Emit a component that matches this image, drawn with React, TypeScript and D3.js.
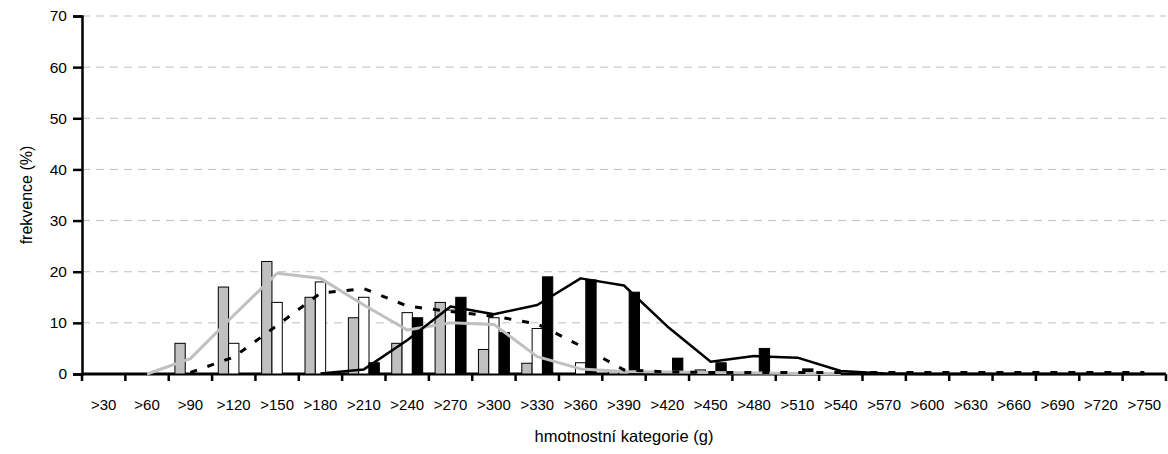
import React, { useEffect, useRef } from "react";
import * as d3 from "d3";

const categories = [">30", ">60", ">90", ">120", ">150", ">180", ">210", ">240", ">270", ">300", ">330", ">360", ">390", ">420", ">450", ">480", ">510", ">540", ">570", ">600", ">630", ">660", ">690", ">720", ">750"];

// bar series
const greyBars = [0, 0, 6, 17, 22, 15, 11, 6, 14, 4.8, 2.1, 0, 0.5, 0, 0.8, 0, 0, 0, 0, 0, 0, 0, 0, 0, 0];
const whiteBars = [0, 0, 0, 6, 14, 18, 15, 12, 12.5, 11, 8.9, 2.2, 0.5, 0, 0, 0, 0, 0, 0, 0, 0, 0, 0, 0, 0];
const blackBars = [0, 0, 0, 0, 0, 0, 2.2, 11, 15, 8.1, 19, 18.4, 16, 3.1, 2.2, 5, 1, 0, 0, 0, 0, 0, 0, 0, 0];

// line series (null = no point)
const greyLine = [null, 0, 3, 11.5, 19.7, 18.7, 13.5, 8.6, 10, 9.7, 3.4, 1, 0.5, 0.4, 0.3, 0.2, 0.1, 0.1, null, null, null, null, null, null, null];
const dashedLine = [null, null, 0.3, 3.3, 9.5, 15.8, 16.7, 13.3, 12.2, 11.3, 9.8, 5.5, 0.8, 0.4, 0.3, 0.3, 0.3, 0.3, 0.3, 0.3, 0.3, 0.3, 0.3, 0.3, 0.3];
const blackLine = [null, null, null, null, null, 0.1, 0.9, 6.6, 13.2, 11.7, 13.5, 18.7, 17.3, 9.3, 2.4, 3.5, 3.2, 0.6, 0.1, 0, 0, 0, 0, 0, 0];

const yTicks = [0, 10, 20, 30, 40, 50, 60, 70];

const W = 1168;
const H = 454;

const App = () => {
  const ref = useRef<SVGSVGElement>(null);

  useEffect(() => {
    drawChart();
  }, []);

  function drawChart() {
    const svg = d3.select(ref.current);
    svg.selectAll("*").remove();

    const left = 82;
    const right = 1166;
    const top = 16;
    const bottom = 374;
    const font = "'Liberation Sans', Arial, sans-serif";

    const x = d3.scaleBand().domain(categories).range([left, right]);
    const xs = d3
      .scaleBand()
      .domain(["grey", "white", "black"])
      .range([0, x.bandwidth()])
      .paddingOuter(0.6);
    const y = d3.scaleLinear().domain([0, 70]).range([bottom, top]);

    // gridlines
    svg
      .append("g")
      .selectAll("line")
      .data(yTicks.filter((t) => t > 0))
      .enter()
      .append("line")
      .attr("x1", left)
      .attr("x2", right)
      .attr("y1", (d) => y(d))
      .attr("y2", (d) => y(d))
      .attr("stroke", "#c0c0c0")
      .attr("stroke-width", 1)
      .attr("stroke-dasharray", "8,6");

    // Y axis
    const yAxis = svg
      .append("g")
      .attr("transform", `translate(${left},0)`)
      .call(d3.axisLeft(y).tickValues(yTicks).tickSize(9).tickPadding(6));
    yAxis.select(".domain").attr("stroke", "#000").attr("stroke-width", 2.5);
    yAxis.selectAll(".tick line").attr("stroke", "#000").attr("stroke-width", 2.5);
    yAxis
      .selectAll(".tick text")
      .attr("font-family", font)
      .attr("font-size", 15.5)
      .attr("fill", "#000");

    // X axis
    const boundaries = categories.map((c) => x(c) as number).concat([right]);
    const xg = svg.append("g");
    xg.append("line")
      .attr("x1", left)
      .attr("x2", right)
      .attr("y1", bottom)
      .attr("y2", bottom)
      .attr("stroke", "#000")
      .attr("stroke-width", 3);
    xg.selectAll(".tk")
      .data(boundaries)
      .enter()
      .append("line")
      .attr("x1", (d) => d)
      .attr("x2", (d) => d)
      .attr("y1", bottom)
      .attr("y2", bottom + 7)
      .attr("stroke", "#000")
      .attr("stroke-width", 2.5);
    xg.selectAll("text")
      .data(categories)
      .enter()
      .append("text")
      .attr("x", (d) => (x(d) as number) + x.bandwidth() / 2)
      .attr("y", 410)
      .attr("text-anchor", "middle")
      .attr("font-family", font)
      .attr("font-size", 15)
      .text((d) => d);

    // axis titles
    svg
      .append("text")
      .attr("x", (left + right) / 2)
      .attr("y", 442)
      .attr("text-anchor", "middle")
      .attr("font-family", font)
      .attr("font-size", 16.5)
      .text("hmotnostní kategorie (g)");
    svg
      .append("text")
      .attr("transform", `translate(32,${(top + bottom) / 2}) rotate(-90)`)
      .attr("text-anchor", "middle")
      .attr("font-family", font)
      .attr("font-size", 16)
      .text("frekvence (%)");

    // bars
    const barSeries = [
      { key: "grey", values: greyBars, fill: "#c0c0c0" },
      { key: "white", values: whiteBars, fill: "#ffffff" },
      { key: "black", values: blackBars, fill: "#000000" },
    ];
    barSeries.forEach((s) => {
      svg
        .append("g")
        .selectAll("rect")
        .data(s.values.map((v, i) => ({ c: categories[i], v })).filter((d) => d.v > 0))
        .enter()
        .append("rect")
        .attr("x", (d) => (x(d.c) as number) + (xs(s.key) as number))
        .attr("width", xs.bandwidth())
        .attr("y", (d) => y(d.v))
        .attr("height", (d) => bottom - y(d.v))
        .attr("fill", s.fill)
        .attr("stroke", "#000")
        .attr("stroke-width", 1);
    });

    // lines
    const line = d3
      .line<{ c: string; v: number | null }>()
      .defined((d) => d.v !== null)
      .x((d) => (x(d.c) as number) + x.bandwidth() / 2)
      .y((d) => y(d.v as number));

    const lineSeries = [
      { values: greyLine, color: "#c0c0c0", width: 3, dash: null },
      { values: dashedLine, color: "#000", width: 3, dash: "7,11" },
      { values: blackLine, color: "#000", width: 2.5, dash: null },
    ];
    lineSeries.forEach((s) => {
      svg
        .append("path")
        .datum(s.values.map((v, i) => ({ c: categories[i], v })))
        .attr("d", line)
        .attr("fill", "none")
        .attr("stroke", s.color)
        .attr("stroke-width", s.width)
        .attr("stroke-linejoin", "round")
        .attr("stroke-dasharray", s.dash);
    });
  }

  return (
    <svg
      ref={ref}
      width={W}
      height={H}
      style={{ position: "absolute", left: 0, top: 0, background: "#fff" }}
    />
  );
};

export default App;
